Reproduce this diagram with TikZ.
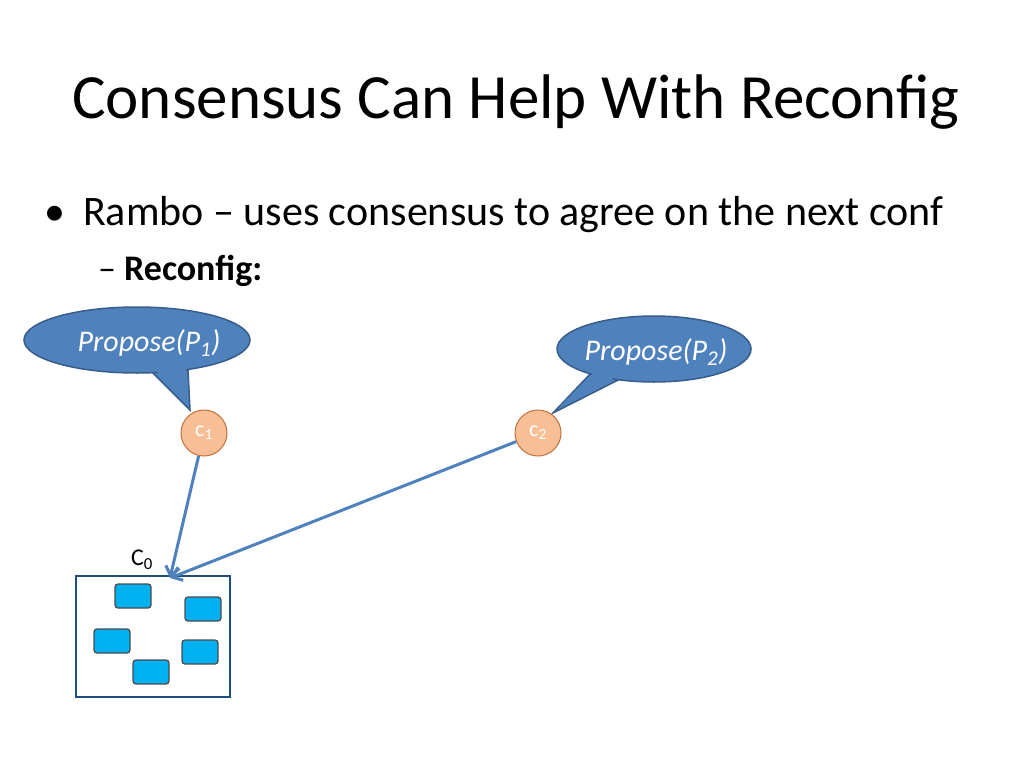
\documentclass[tikz,border=0pt]{standalone}
\usepackage{fontspec}
\setmainfont{Carlito}
\usetikzlibrary{shapes.geometric,arrows.meta}
\definecolor{bub}{HTML}{4F81BD}
\definecolor{bubd}{HTML}{385D8A}
\definecolor{peach}{HTML}{F8BE96}
\definecolor{peachd}{HTML}{C0723E}
\definecolor{cy}{HTML}{00B0F0}
\definecolor{boxd}{HTML}{1F4E79}
\tikzset{
 bubble/.style={ellipse,fill=bub,draw=bubd,line width=1.5pt,inner sep=0pt},
 cnode/.style={circle,fill=peach,draw=peachd,line width=1pt,minimum size=46pt,inner sep=0pt,text=white,font=\fontsize{22}{24}\selectfont},
 conn/.style={draw=bub,line width=3pt,-{Straight Barb[length=9pt,width=14pt]}},
 srv/.style={rounded corners=3pt,fill=cy,draw=black!70,line width=1.3pt,minimum width=36pt,minimum height=24pt,inner sep=0pt},
 btext/.style={text=white,font=\fontsize{30}{32}\selectfont\itshape}
}
\begin{document}
\begin{tikzpicture}[x=1pt,y=-1pt]
\useasboundingbox (0,0) rectangle (1024,768);
\node[anchor=base west,inner sep=0pt,font=\fontsize{63}{68}\selectfont] (title) at (72,118) {Consensus Can Help With Reconfig};
\node[anchor=base west,inner sep=0pt,font=\fontsize{42}{46}\selectfont] (b1) at (44,225) {•\hspace{18pt}Rambo – uses consensus to agree on the next conf};
\node[anchor=base west,inner sep=0pt,font=\fontsize{36}{40}\selectfont] (b2) at (98,280) {–\hspace{8pt}\textbf{Reconfig:}};
% callout 1
\fill[bub,draw=bubd,line width=1.5pt] (148,368) -- (190,410) -- (188,370) -- cycle;
\node[bubble,minimum width=226pt,minimum height=66pt] (p1) at (137,340) {};
\fill[bub] (152,366) -- (188,404) -- (186,366) -- cycle;
\node[btext] (p1t) at (149,343) {Propose(P\textsubscript{1})};
% callout 2
\fill[bub,draw=bubd,line width=1.5pt] (592,372) -- (553,413) -- (622,378) -- cycle;
\node[bubble,minimum width=194pt,minimum height=66pt] (p2) at (654,349) {};
\fill[bub] (595,372) -- (560,406) -- (618,376) -- cycle;
\node[btext] (p2t) at (656,352) {Propose(P\textsubscript{2})};
% nodes
\node[cnode] (c1) at (204,433) {c\textsubscript{1}};
\node[cnode] (c2) at (538,433) {c\textsubscript{2}};
\node[font=\fontsize{24}{26}\selectfont] (c0l) at (142,560) {C\textsubscript{0}};
\draw[draw=boxd,line width=1.3pt] (76,576) rectangle (230,697);
\coordinate (tip) at (170,578);
\draw[conn] (c1) -- (tip);
\draw[conn] (c2) -- (tip);
\node[srv] (s1) at (133,596) {};
\node[srv] (s2) at (203,609) {};
\node[srv] (s3) at (112,641) {};
\node[srv] (s4) at (200,652) {};
\node[srv] (s5) at (151,672) {};
\end{tikzpicture}
\end{document}
